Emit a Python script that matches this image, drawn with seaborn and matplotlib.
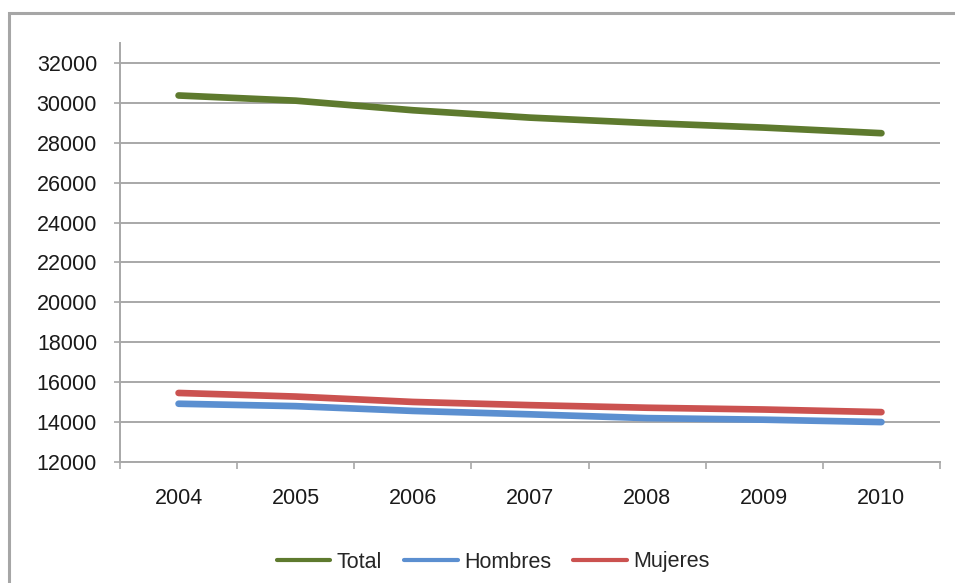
import numpy as np
import pandas as pd
import seaborn as sns
import matplotlib.pyplot as plt
from matplotlib.patches import Rectangle
from matplotlib.ticker import MultipleLocator

years = [2004, 2005, 2006, 2007, 2008, 2009, 2010]
total = [30370, 30110, 29630, 29260, 28990, 28760, 28480]
hombres = [14920, 14800, 14560, 14390, 14200, 14120, 14000]
mujeres = [15460, 15280, 15010, 14850, 14720, 14630, 14500]
series = ['Total', 'Hombres', 'Mujeres']
colors = ['#5E7A2E', '#5B8FD0', '#CB5250']

sns.set_style("white")
plt.rcParams['font.family'] = ['Liberation Sans', 'DejaVu Sans']

df = pd.DataFrame({
    'year': years * 3,
    'value': total + hombres + mujeres,
    'serie': ['Total'] * 7 + ['Hombres'] * 7 + ['Mujeres'] * 7,
})

fig = plt.figure(figsize=(9.55, 5.83), dpi=100)
ax = fig.add_axes([120 / 955, 1 - 462 / 583, 820 / 955, 419 / 583])

# outer chart frame (only left and top edges visible in the picture)
fig.patches.append(Rectangle((9 / 955, -0.1), 1.2, 1 - 13 / 583 + 0.1,
                             transform=fig.transFigure, fill=False,
                             edgecolor='#a6a6a6', linewidth=2.2))

sns.lineplot(data=df, x='year', y='value', hue='serie', hue_order=series,
             palette=colors, linewidth=4.8, ax=ax, solid_capstyle='round')

ax.set_xlim(2003.5, 2010.5)
ax.set_ylim(12000, 33000)
ax.set_yticks(np.arange(12000, 32001, 2000))
ax.set_xticks(years)
ax.set_xticklabels([str(y) for y in years])
ax.xaxis.set_minor_locator(MultipleLocator(1, offset=0.5))
ax.yaxis.grid(True, color='#a8a8a8', linewidth=1.4)
ax.set_axisbelow(True)
ax.set_xlabel('')
ax.set_ylabel('')

for side in ['top', 'right']:
    ax.spines[side].set_visible(False)
for side in ['left', 'bottom']:
    ax.spines[side].set_color('#a8a8a8')
    ax.spines[side].set_linewidth(1.4)

ax.tick_params(axis='y', which='major', length=4, color='#a8a8a8', width=1.2,
               labelsize=15.5, pad=12.5, labelcolor='#1a1a1a', direction='out', left=True)
ax.tick_params(axis='x', which='major', length=0, labelsize=15.5, pad=19,
               labelcolor='#1a1a1a')
ax.tick_params(axis='x', which='minor', length=5, color='#a8a8a8', width=1.2,
               direction='out', bottom=True)

ax.legend(loc='center', bbox_to_anchor=(493 / 955, (583 - 562) / 583), bbox_transform=fig.transFigure,
          ncol=3, frameon=False, fontsize=15.5, handlelength=2.5, handletextpad=0.3,
          columnspacing=1.0, title=None)
for line in ax.get_legend().get_lines():
    line.set_linewidth(3)

fig.savefig('out.png', dpi=100)
